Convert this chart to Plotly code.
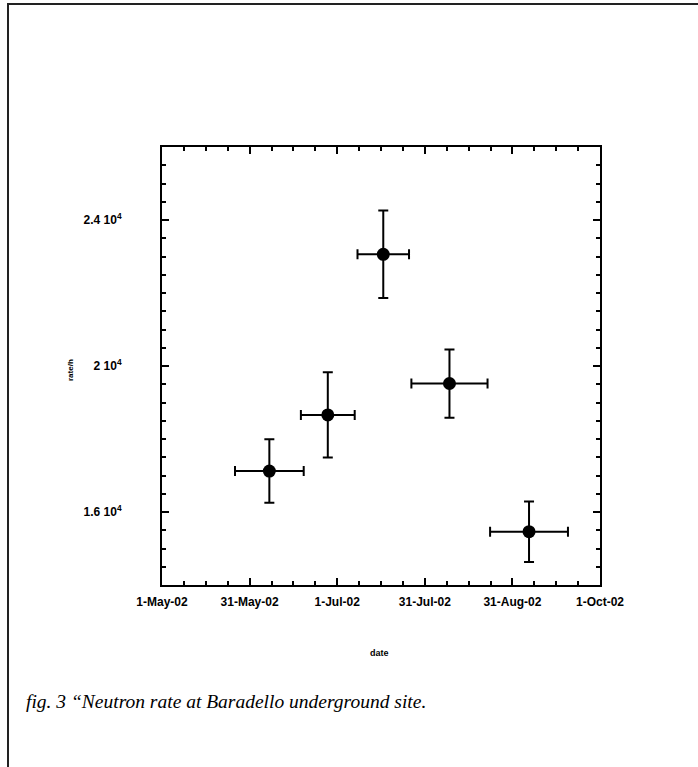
import plotly.graph_objects as go
import pandas as pd

# ---- data ----
dates = ["2002-06-07 12:00", "2002-06-27 22:00", "2002-07-17 07:00", "2002-08-09 10:00", "2002-09-06 05:00"]
rate = [17120, 18660, 23060, 19520, 15460]
rate_err = [870, 1170, 1200, 935, 830]
date_err_days = [12.0, 9.4, 9.0, 13.3, 13.6]

start = pd.Timestamp("2002-05-01")
end = pd.Timestamp("2002-10-01")
span_days = (end - start).total_seconds() / 86400.0

tick_labels = ["1-May-02", "31-May-02", "1-Jul-02", "31-Jul-02", "31-Aug-02", "1-Oct-02"]
y_tick_vals = [16000, 20000, 24000]
y_tick_text = ["1.6 10<sup>4</sup>", "2 10<sup>4</sup>", "2.4 10<sup>4</sup>"]

x_days = [(pd.Timestamp(d) - start).total_seconds() / 86400.0 for d in dates]
n_major = len(tick_labels) - 1
tick_vals = [span_days * i / n_major for i in range(len(tick_labels))]

W, H = 698, 767
L, R, T, B = 162, 98, 147, 182
pw, ph = W - L - R, H - T - B

def px_x(p):
    return (p - L) / pw

def px_y(p):
    return (H - B - p) / ph

fig = go.Figure()
fig.add_trace(go.Scatter(
    x=x_days, y=rate, mode="markers",
    marker=dict(color="black", size=13),
    error_y=dict(type="data", array=rate_err, color="black", thickness=2, width=5),
    error_x=dict(type="data", array=date_err_days, color="black", thickness=2, width=5),
    showlegend=False,
))

axis_font = dict(family="Liberation Sans, Arial, sans-serif", size=12, color="black", weight="bold")

fig.update_xaxes(
    range=[0, span_days], tickvals=tick_vals, ticktext=tick_labels,
    ticks="inside", ticklen=7, tickwidth=2, tickcolor="black",
    showline=True, linewidth=2, linecolor="black", mirror="allticks",
    showgrid=False, zeroline=False, tickfont=axis_font, ticklabelstandoff=5,
    minor=dict(dtick=span_days / n_major / 4, tick0=0, ticks="inside", ticklen=4,
               tickwidth=2, tickcolor="black", showgrid=False),
)
fig.update_yaxes(
    range=[14000, 26000], tickvals=y_tick_vals, ticktext=y_tick_text,
    ticks="inside", ticklen=7, tickwidth=2, tickcolor="black",
    showline=True, linewidth=2, linecolor="black", mirror="allticks",
    showgrid=False, zeroline=False, tickfont=axis_font, ticklabelstandoff=36,
    minor=dict(dtick=500, tick0=0, ticks="inside", ticklen=4,
               tickwidth=2, tickcolor="black", showgrid=False),
)

fig.add_annotation(text="date", xref="paper", yref="paper", x=px_x(379), y=px_y(653),
                   xanchor="center", yanchor="middle", showarrow=False,
                   font=dict(family="Liberation Sans, Arial", size=9, color="black", weight="bold"))
fig.add_annotation(text="rate/h", xref="paper", yref="paper", x=px_x(70), y=px_y(370),
                   xanchor="center", yanchor="middle", textangle=-90, showarrow=False,
                   font=dict(family="Liberation Sans, Arial", size=8, color="black", weight="bold"))
fig.add_annotation(text="fig. 3 \u201cNeutron rate at Baradello underground site.",
                   xref="paper", yref="paper", x=px_x(24), y=px_y(701),
                   xanchor="left", yanchor="middle", showarrow=False,
                   font=dict(family="Liberation Serif, Times New Roman, serif", size=19.5, color="black",
                             style="italic"))

fig.add_shape(type="rect", xref="paper", yref="paper",
              x0=px_x(8), x1=px_x(760), y0=px_y(4), y1=px_y(830),
              line=dict(color="#222222", width=2), fillcolor="rgba(0,0,0,0)", layer="below")

fig.update_layout(
    width=W, height=H, margin=dict(l=L, r=R, t=T, b=B),
    paper_bgcolor="white", plot_bgcolor="white",
)

fig.write_html("out.html")
